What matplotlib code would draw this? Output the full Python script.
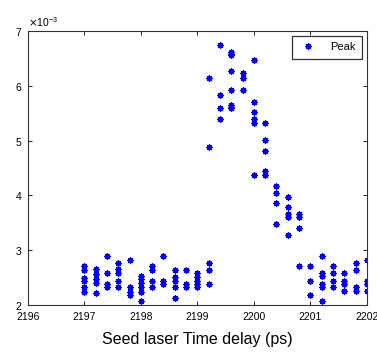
import numpy as np
import matplotlib
matplotlib.use("Agg")
import matplotlib.pyplot as plt
from matplotlib.ticker import ScalarFormatter

plt.rcParams["font.family"] = ["Liberation Sans", "DejaVu Sans"]

# time delay (ps) and the peak values measured at each delay (x 1e-3)
delays = [2197.0, 2197.2, 2197.4, 2197.6, 2197.8, 2198.0, 2198.2, 2198.4,
          2198.6, 2198.8, 2199.0, 2199.2, 2199.4, 2199.6, 2199.8, 2200.0,
          2200.2, 2200.4, 2200.6, 2200.8, 2201.0, 2201.2, 2201.4, 2201.6,
          2201.8, 2202.0]
peaks = [
    [2.71, 2.64, 2.50, 2.43, 2.32, 2.24],
    [2.65, 2.57, 2.47, 2.40, 2.21],
    [2.90, 2.58, 2.38, 2.32],
    [2.77, 2.65, 2.58, 2.43, 2.32],
    [2.83, 2.32, 2.24, 2.18],
    [2.53, 2.47, 2.40, 2.32, 2.24, 2.07],
    [2.71, 2.64, 2.44, 2.32],
    [2.90, 2.44, 2.38],
    [2.64, 2.52, 2.44, 2.32, 2.12],
    [2.64, 2.38, 2.32],
    [2.58, 2.52, 2.44, 2.38, 2.32],
    [6.15, 4.88, 2.77, 2.64, 2.38],
    [6.75, 5.84, 5.60, 5.39],
    [6.62, 6.59, 6.56, 6.28, 5.92, 5.65, 5.62, 5.59],
    [6.24, 6.15, 5.92],
    [6.47, 5.70, 5.52, 5.39, 5.33, 4.37],
    [5.33, 5.01, 4.81, 4.44, 4.37],
    [4.18, 4.04, 3.86, 3.47],
    [3.98, 3.79, 3.67, 3.60, 3.28],
    [3.67, 3.60, 3.41, 2.71],
    [2.71, 2.44, 2.19],
    [2.90, 2.58, 2.53, 2.38, 2.32, 2.07],
    [2.71, 2.58, 2.44, 2.32],
    [2.58, 2.44, 2.38, 2.26],
    [2.77, 2.64, 2.32, 2.26],
    [2.83, 2.44, 2.38, 2.26],
]

x = []
y = []
for d, vals in zip(delays, peaks):
    for v in vals:
        x.append(d)
        y.append(v * 1e-3)

fig = plt.figure(figsize=(3.77, 3.53), dpi=100)
ax = fig.add_axes([0.074, 0.136, 0.899, 0.776])

ax.plot(x, y, linestyle="none", marker=(8, 2, 0), markersize=4.5,
        markeredgewidth=0.9, color="#0000ff", label="Peak")

ax.set_xlim(2196, 2202)
ax.set_ylim(2e-3, 7e-3)
ax.set_xticks(np.arange(2196, 2203, 1))
ax.set_yticks(np.arange(2, 8, 1) * 1e-3)

fmt = ScalarFormatter(useMathText=True)
fmt.set_powerlimits((-2, 2))
ax.yaxis.set_major_formatter(fmt)
ax.yaxis.get_offset_text().set_fontsize(7.5)

ax.tick_params(direction="in", top=True, right=True, labelsize=7.5,
               length=3, width=0.6)
ax.tick_params(axis="x", pad=5)
ax.tick_params(axis="y", pad=4)
for s in ax.spines.values():
    s.set_linewidth(0.8)
    s.set_color("#333333")

ax.set_xlabel("Seed laser Time delay (ps)", fontsize=11.5, labelpad=7)

leg = ax.legend(loc="upper right", fontsize=8, frameon=True, fancybox=False,
                borderpad=0.6, handletextpad=1.2, handlelength=1.6,
                borderaxespad=0.4)
leg.get_frame().set_edgecolor("black")
leg.get_frame().set_linewidth(0.9)

fig.savefig("out.png", dpi=100)
plt.close()
